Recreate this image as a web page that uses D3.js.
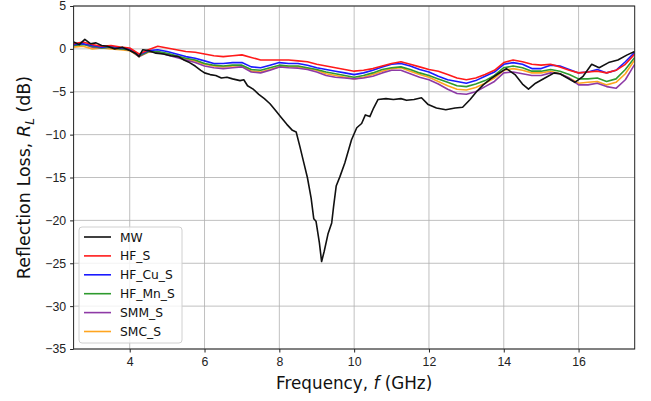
<!DOCTYPE html>
<html lang="en">
<head>
    <meta charset="UTF-8">
    <script src="https://cdn.jsdelivr.net/npm/d3@7"></script>
    <title>Reflection Loss</title>
    <style>
        body { margin: 0; background: white; }
        svg { font-family: 'DejaVu Sans', sans-serif; }
        .grid line { stroke: #b0b0b0; stroke-width: 0.8px; }
        .axis path, .axis line { stroke: #222; }
        .axis text { font-size: 12.3px; fill: #222; }
    </style>
</head>
<body>
<svg id="chart" width="651" height="401"></svg>
<script>
    // frequency grid (GHz) shared by the five coated samples
    const freq = [2.5, 2.75, 3.0, 3.25, 3.5, 3.75, 4.0, 4.25, 4.5, 4.75, 5.0, 5.25, 5.5, 5.75,
        6.0, 6.25, 6.5, 6.75, 7.0, 7.25, 7.5, 7.75, 8.0, 8.25, 8.5, 8.75, 9.0, 9.25, 9.5, 9.75,
        10.0, 10.25, 10.5, 10.75, 11.0, 11.25, 11.5, 11.75, 12.0, 12.25, 12.5, 12.75, 13.0, 13.25,
        13.5, 13.75, 14.0, 14.25, 14.5, 14.75, 15.0, 15.25, 15.5, 15.75, 16.0, 16.25, 16.5, 16.75,
        17.0, 17.25, 17.5];

    const hfS = [0.6, 0.8, 0.5, 0.3, 0.4, 0.2, 0.1, -0.6, -0.1, 0.3, 0.1, -0.1, -0.3, -0.4,
        -0.6, -0.8, -0.9, -0.8, -0.7, -1.0, -1.3, -1.3, -1.3, -1.3, -1.4, -1.5, -1.8, -2.0, -2.2, -2.4,
        -2.6, -2.5, -2.3, -2.0, -1.7, -1.5, -1.8, -2.1, -2.4, -2.6, -3.0, -3.4, -3.6, -3.4,
        -3.0, -2.5, -1.6, -1.3, -1.5, -1.8, -1.9, -1.8, -2.1, -2.5, -2.8, -2.7, -2.6, -2.8,
        -2.5, -1.8, -0.6];

    const hfCuS = [0.5, 0.6, 0.4, 0.2, 0.3, 0.1, 0.0, -0.7, -0.2, -0.1, -0.3, -0.6, -0.9, -1.1,
        -1.4, -1.7, -1.7, -1.6, -1.6, -2.1, -2.2, -1.9, -1.6, -1.7, -1.7, -1.9, -2.2, -2.4, -2.6, -2.8,
        -3.0, -2.8, -2.5, -2.1, -1.8, -1.7, -2.0, -2.4, -2.7, -3.2, -3.6, -3.8, -4.0, -3.7,
        -3.2, -2.7, -1.8, -1.6, -1.8, -2.3, -2.3, -1.9, -2.0, -2.4, -2.8, -2.7, -2.4, -2.8,
        -2.5, -1.5, -0.4];

    const hfMnS = [0.4, 0.5, 0.3, 0.1, 0.2, 0.0, -0.1, -0.8, -0.3, -0.3, -0.5, -0.8, -1.1, -1.3,
        -1.7, -1.9, -2.0, -1.9, -1.9, -2.4, -2.5, -2.2, -1.9, -2.0, -2.0, -2.2, -2.4, -2.7, -2.9, -3.1,
        -3.3, -3.1, -2.8, -2.4, -2.2, -2.1, -2.4, -2.8, -3.1, -3.5, -3.9, -4.3, -4.4, -4.1,
        -3.7, -3.1, -2.2, -2.0, -2.2, -2.6, -2.6, -2.4, -2.6, -3.0, -3.5, -3.5, -3.4, -3.8,
        -3.5, -2.4, -1.0];

    const smmS = [0.4, 0.6, 0.2, 0.1, 0.2, 0.0, -0.1, -0.9, -0.3, -0.4, -0.7, -1.0, -1.3, -1.6,
        -2.0, -2.2, -2.3, -2.2, -2.1, -2.7, -2.8, -2.5, -2.1, -2.2, -2.25, -2.4, -2.7, -3.1, -3.3, -3.4,
        -3.5, -3.4, -3.2, -2.8, -2.5, -2.5, -2.9, -3.3, -3.6, -4.1, -4.7, -5.2, -5.3, -5.0,
        -4.4, -3.8, -2.8, -2.7, -2.9, -3.1, -3.1, -2.8, -2.9, -3.4, -4.2, -4.2, -4.0, -4.4,
        -4.6, -3.6, -1.8];

    const smcS = [0.2, 0.3, 0.0, 0.1, 0.0, -0.1, -0.2, -0.9, -0.4, -0.4, -0.6, -0.9, -1.2, -1.4,
        -1.8, -2.0, -2.1, -2.0, -2.0, -2.6, -2.7, -2.4, -2.1, -2.1, -2.1, -2.3, -2.5, -2.9, -3.1, -3.3,
        -3.5, -3.3, -3.0, -2.6, -2.3, -2.2, -2.6, -3.0, -3.3, -3.8, -4.3, -4.7, -4.8, -4.5,
        -4.0, -3.4, -2.5, -2.3, -2.5, -2.8, -2.8, -2.6, -2.9, -3.4, -4.0, -3.9, -3.8, -4.2,
        -3.9, -2.9, -1.3];

    // the uncoated sample has its own, denser frequency grid around the absorption dip
    const freqMW = [2.5, 2.65, 2.8, 2.95, 3.1, 3.25, 3.4, 3.6, 3.8, 4.0, 4.15, 4.25, 4.35, 4.5,
        4.7, 4.9, 5.1, 5.3, 5.45, 5.6, 5.75, 5.9, 6.0, 6.15, 6.3, 6.45, 6.6, 6.75, 6.95, 7.05,
        7.15, 7.3, 7.45, 7.6, 7.75, 7.9, 8.05, 8.2, 8.35, 8.45, 8.55, 8.65, 8.75, 8.85, 8.92,
        8.98, 9.07, 9.13, 9.2, 9.3, 9.4, 9.45, 9.52, 9.62, 9.75, 9.93, 10.07, 10.2, 10.3, 10.42,
        10.52, 10.64, 10.85, 11.05, 11.25, 11.4, 11.6, 11.8, 11.98, 12.2, 12.45, 12.7, 12.9,
        13.1, 13.27, 13.45, 13.65, 13.85, 14.07, 14.3, 14.5, 14.66, 14.85, 15.1, 15.35, 15.5,
        15.7, 15.9, 16.12, 16.35, 16.55, 16.8, 17.05, 17.3, 17.5];

    const mw = [0.8, 0.5, 1.1, 0.6, 0.7, 0.4, 0.3, 0.0, 0.2, -0.2, -0.5, -0.9, -0.1, -0.2,
        -0.5, -0.6, -0.8, -0.9, -1.3, -1.6, -2.0, -2.5, -2.8, -3.0, -3.1, -3.4, -3.3, -3.5, -3.7, -3.6,
        -4.3, -4.7, -5.3, -5.8, -6.4, -7.2, -8.0, -8.8, -9.5, -9.7, -11.4, -13.2, -15.0, -17.4, -19.8,
        -20.1, -22.6, -24.8, -23.6, -21.6, -20.3, -18.4, -16.0, -14.9, -13.3, -10.6, -9.2, -8.7, -7.7, -7.9,
        -6.9, -5.9, -5.8, -5.9, -5.8, -6.0, -5.9, -5.7, -6.5, -6.9, -7.1, -6.9, -6.8,
        -5.9, -5.0, -4.2, -3.5, -2.9, -2.3, -3.0, -4.1, -4.7, -4.0, -3.4, -2.8, -2.9,
        -3.4, -3.9, -3.2, -1.8, -2.2, -1.6, -1.3, -0.7, -0.3];

    const seriesNames = ["MW", "HF_S", "HF_Cu_S", "HF_Mn_S", "SMM_S", "SMC_S"];
    const seriesColors = ["#111111", "#ff1a1a", "#1a1aff", "#2e9a2e", "#8e3aa6", "#ffa51f"];

    const xTicks = [4, 6, 8, 10, 12, 14, 16];
    const yTicks = [5, 0, -5, -10, -15, -20, -25, -30, -35];

    const series = [
        { name: seriesNames[0], color: seriesColors[0], x: freqMW, y: mw },
        { name: seriesNames[1], color: seriesColors[1], x: freq, y: hfS },
        { name: seriesNames[2], color: seriesColors[2], x: freq, y: hfCuS },
        { name: seriesNames[3], color: seriesColors[3], x: freq, y: hfMnS },
        { name: seriesNames[4], color: seriesColors[4], x: freq, y: smmS },
        { name: seriesNames[5], color: seriesColors[5], x: freq, y: smcS }
    ];

    const margin = { left: 73.6, top: 6, right: 16.3, bottom: 52 };
    const width = 651 - margin.left - margin.right;
    const height = 401 - margin.top - margin.bottom;

    const svg = d3.select("#chart");
    const g = svg.append("g").attr("transform", `translate(${margin.left},${margin.top})`);

    const x = d3.scaleLinear().domain([2.5, 17.5]).range([0, width]);
    const y = d3.scaleLinear().domain([-35, 5]).range([height, 0]);

    // grid
    g.append("g").attr("class", "grid")
        .selectAll("line").data(xTicks).enter().append("line")
        .attr("x1", d => x(d)).attr("x2", d => x(d))
        .attr("y1", 0).attr("y2", height);
    g.append("g").attr("class", "grid")
        .selectAll("line").data(yTicks).enter().append("line")
        .attr("x1", 0).attr("x2", width)
        .attr("y1", d => y(d)).attr("y2", d => y(d));

    // data lines
    g.append("defs").append("clipPath").attr("id", "clip")
        .append("rect").attr("width", width).attr("height", height);

    const line = d3.line()
        .x(d => x(d[0]))
        .y(d => y(d[1]));

    g.append("g").attr("clip-path", "url(#clip)")
        .selectAll("path").data(series.slice().reverse()).enter().append("path")
        .attr("fill", "none")
        .attr("stroke", d => d.color)
        .attr("stroke-width", 1.6)
        .attr("stroke-linejoin", "round")
        .attr("d", d => line(d.x.map((v, i) => [v, d.y[i]])));

    // axes
    const xAxis = g.append("g").attr("class", "axis")
        .attr("transform", `translate(0,${height})`)
        .call(d3.axisBottom(x).tickValues(xTicks).tickSize(3.5).tickPadding(5).tickFormat(d3.format("d")));
    const yAxis = g.append("g").attr("class", "axis")
        .call(d3.axisLeft(y).tickValues(yTicks).tickSize(3.5).tickPadding(4)
            .tickFormat(d => d < 0 ? "\u2212" + Math.abs(d) : d));
    xAxis.select(".domain").remove();
    yAxis.select(".domain").remove();

    g.append("rect")
        .attr("width", width).attr("height", height)
        .attr("fill", "none").attr("stroke", "#222").attr("stroke-width", 1);

    // axis labels
    const xl = svg.append("text")
        .attr("x", margin.left + width / 2)
        .attr("y", 389)
        .attr("text-anchor", "middle")
        .attr("font-size", 16.8)
        .attr("fill", "#111");
    xl.append("tspan").text("Frequency, ");
    xl.append("tspan").attr("font-style", "italic").text("f");
    xl.append("tspan").text(" (GHz)");

    const yl = svg.append("text")
        .attr("transform", `translate(30,${margin.top + height / 2}) rotate(-90)`)
        .attr("text-anchor", "middle")
        .attr("font-size", 17.5)
        .attr("fill", "#111");
    yl.append("tspan").text("Reflection Loss, ");
    yl.append("tspan").attr("font-style", "italic").text("R");
    yl.append("tspan").attr("font-style", "italic").attr("font-size", 12).attr("dy", 4).text("L");
    yl.append("tspan").attr("dy", -4).text(" (dB)");

    // legend
    const legend = svg.append("g").attr("transform", "translate(79,227)");
    legend.append("rect")
        .attr("width", 103).attr("height", 116).attr("rx", 3)
        .attr("fill", "white").attr("fill-opacity", 0.8)
        .attr("stroke", "#d0d0d0");
    const items = legend.selectAll(".item").data(series).enter().append("g")
        .attr("transform", (d, i) => `translate(0,${10 + i * 18.9})`);
    items.append("line")
        .attr("x1", 5).attr("x2", 32)
        .attr("stroke", d => d.color).attr("stroke-width", 1.6);
    items.append("text")
        .attr("x", 41).attr("y", 4.5)
        .attr("font-size", 12.3).attr("fill", "#111")
        .text(d => d.name);
</script>
</body>
</html>
